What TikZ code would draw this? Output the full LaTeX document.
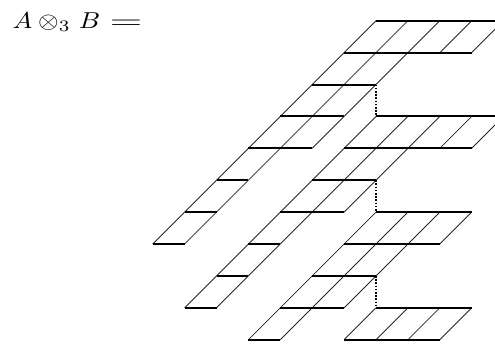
\documentclass[tikz,border=0pt]{standalone}
\usepackage{amsmath}
\usepackage{graphicx}
\begin{document}
\begin{tikzpicture}[x=1pt,y=1pt,
  sline/.style={line width=0.85pt,black!85},
  hline/.style={line width=2pt,black},
  dotline/.style={line width=1.6pt,dash pattern=on 1.6pt off 1.6pt}]
\useasboundingbox (0,0) rectangle (495,-346);
\clip (0,0) rectangle (495,-346);
\node[anchor=base west,inner sep=0pt,scale=2.3,xscale=1.15] (lbl) at (12,-28)
  {$A\otimes_3\mskip1.5mu B\mskip1.5mu\mathrel{\scalebox{1.6}[1]{$=$}}$};
\begin{scope}[shift={(376,-20.7)},x={(31.9pt,0pt)},y={(-31.9pt,-31.9pt)}]
  % slanted edges of the cells: row k, cells from s=a to s=b
  \foreach \k/\a/\b in {0/0/4,1/0/2,2/0/2,3/0/2,4/0/1,5/0/1,6/0/1,
                        3/3/7,4/3/5,5/3/5,6/3/4,7/3/4,8/3/4,
                        6/6/9,7/6/8,8/6/8,9/6/7,
                        9/9/12}{
    \foreach \s in {\a,...,\b}{
      \draw[sline] (\s,\k) -- (\s,\k+1);
    }
  }
  % horizontal edges: level k, from s=a to s=b
  \foreach \k/\a/\b in {0/0/4,1/0/4,2/0/2,3/0/2,4/0/2,5/0/1,6/0/1,7/0/1,
                        3/3/7,4/3/7,5/3/5,6/3/5,7/3/4,8/3/4,9/3/4,
                        6/6/9,7/6/9,8/6/8,9/6/8,10/6/7,
                        9/9/12,10/9/12}{
    \draw[hline] (\a,\k) -- (\b,\k);
  }
  % dotted links between the blocks
  \coordinate (d1a) at (2,2); \coordinate (d1b) at (3,3);
  \coordinate (d2a) at (5,5); \coordinate (d2b) at (6,6);
  \coordinate (d3a) at (8,8); \coordinate (d3b) at (9,9);
  \draw[dotline] (d1a) -- (d1b);
  \draw[dotline] (d2a) -- (d2b);
  \draw[dotline] (d3a) -- (d3b);
\end{scope}
\end{tikzpicture}
\end{document}
